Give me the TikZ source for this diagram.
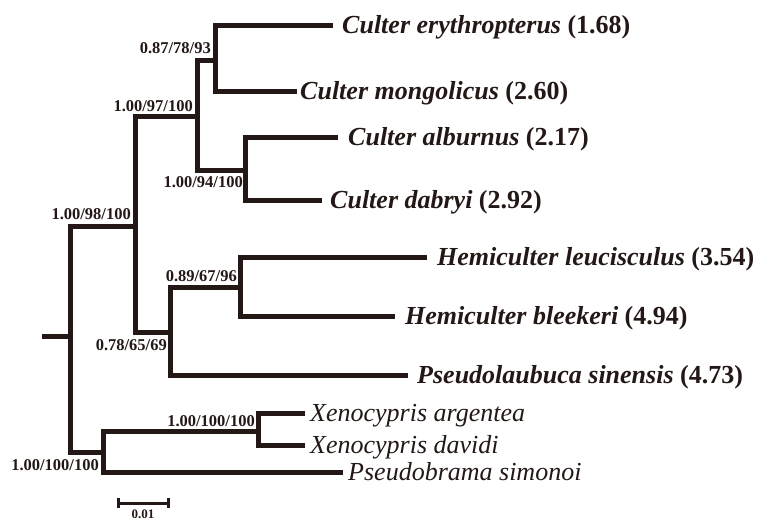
\documentclass[tikz,border=0pt]{standalone}
\usepackage{fontspec}
\setmainfont{Liberation Serif}
\definecolor{ink}{RGB}{35,24,21}
\begin{document}
\begin{tikzpicture}[x=1pt,y=-1pt,
  branch/.style={draw=ink,line width=5pt,line join=miter},
  scalebar/.style={draw=ink,line width=3pt},
  sp/.style={anchor=base west,inner sep=0pt,text=ink,font=\fontsize{26}{30}\selectfont},
  supp/.style={anchor=base east,inner sep=0pt,text=ink,font=\fontsize{16.5}{18}\selectfont\bfseries},
  scalelab/.style={anchor=base,inner sep=0pt,text depth=0pt,text=ink,font=\fontsize{13}{15}\selectfont\bfseries}]
\useasboundingbox (0,0) rectangle (759,522);
% tips
\coordinate (ery) at (333,25);
\coordinate (mon) at (297,91);
\coordinate (alb) at (338,137);
\coordinate (dab) at (322,200);
\coordinate (leu) at (427,257);
\coordinate (ble) at (395,316);
\coordinate (pse) at (408,375);
\coordinate (arg) at (305,413);
\coordinate (dav) at (305,445);
\coordinate (sim) at (343,472);
% internal nodes
\coordinate (n1) at (215,60);
\coordinate (n2) at (245,170);
\coordinate (n3) at (197,116);
\coordinate (n4) at (240,287);
\coordinate (n5) at (170,332);
\coordinate (n6) at (135,226);
\coordinate (n7) at (258,431);
\coordinate (n8) at (103,452);
\coordinate (root) at (70,336);
\coordinate (stub) at (42,336);
% branches
\draw[branch] (ery) -| (n1) |- (mon);
\draw[branch] (alb) -| (n2) |- (dab);
\draw[branch] (n1) -| (n3) |- (n2);
\draw[branch] (leu) -| (n4) |- (ble);
\draw[branch] (n4) -| (n5) |- (pse);
\draw[branch] (n3) -| (n6) |- (n5);
\draw[branch] (arg) -| (n7) |- (dav);
\draw[branch] (n7) -| (n8) |- (sim);
\draw[branch] (n6) -| (root) |- (n8);
\draw[branch] (root) -- (stub);
% species labels
\node[sp] (Lery) at (342,33.5) {\textbf{\textit{Culter erythropterus}} \textbf{(1.68)}};
\node[sp] (Lmon) at (300,99.5) {\textbf{\textit{Culter mongolicus}} \textbf{(2.60)}};
\node[sp] (Lalb) at (348,145.5) {\textbf{\textit{Culter alburnus}} \textbf{(2.17)}};
\node[sp] (Ldab) at (330,208.5) {\textbf{\textit{Culter dabryi}} \textbf{(2.92)}};
\node[sp] (Lleu) at (437,265.5) {\textbf{\textit{Hemiculter leucisculus}} \textbf{(3.54)}};
\node[sp] (Lble) at (405,324.5) {\textbf{\textit{Hemiculter bleekeri}} \textbf{(4.94)}};
\node[sp] (Lpse) at (417,383.5) {\textbf{\textit{Pseudolaubuca sinensis}} \textbf{(4.73)}};
\node[sp] (Larg) at (310,421.5) {\textit{Xenocypris argentea}};
\node[sp] (Ldav) at (310,453.5) {\textit{Xenocypris davidi}};
\node[sp] (Lsim) at (348,480.5) {\textit{Pseudobrama simonoi}};
% support values
\node[supp] (s1) at (211,53) {0.87/78/93};
\node[supp] (s3) at (193,111) {1.00/97/100};
\node[supp] (s2) at (243,187) {1.00/94/100};
\node[supp] (s6) at (131,219) {1.00/98/100};
\node[supp] (s4) at (237,281) {0.89/67/96};
\node[supp] (s5) at (167,350) {0.78/65/69};
\node[supp] (s7) at (255,426) {1.00/100/100};
\node[supp] (s8) at (99,470) {1.00/100/100};
% scale bar
\coordinate (sbL) at (118,503);
\coordinate (sbR) at (168,503);
\draw[scalebar] (sbL) -- (sbR);
\draw[scalebar] ([yshift=-5pt]sbL) -- ([yshift=5pt]sbL);
\draw[scalebar] ([yshift=-5pt]sbR) -- ([yshift=5pt]sbR);
\node[scalelab] (sblab) at (143,518.5) {0.01};
\end{tikzpicture}
\end{document}
